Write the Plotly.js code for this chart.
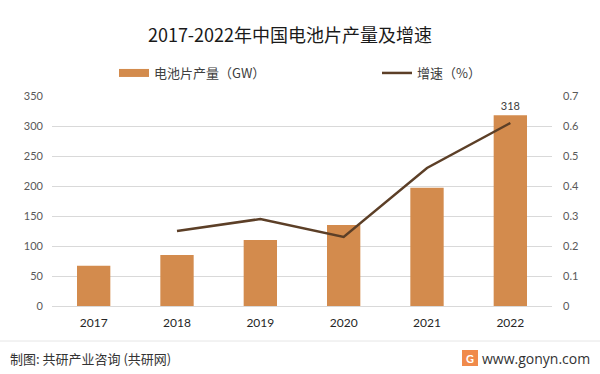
<!DOCTYPE html>
<html>
<head>
<meta charset="utf-8">
<script src="https://cdn.plot.ly/plotly-3.0.1.min.js"></script>
<style>html,body{margin:0;padding:0;background:#fff;}#chart{width:600px;height:374px;}</style>
</head>
<body>
<div id="chart"></div>
<script>
const years = ['2017', '2018', '2019', '2020', '2021', '2022'];
const production = [67, 85, 110, 135, 197, 318];
const growth = [null, 0.25, 0.29, 0.23, 0.46, 0.61];
const leftTicks = [0, 50, 100, 150, 200, 250, 300, 350];
const rightTicks = [0, 0.1, 0.2, 0.3, 0.4, 0.5, 0.6, 0.7];
const barName = '电池片产量（GW）';
const lineName = '增速（%）';
const labelText = production.map((v, i) => i === production.length - 1 ? String(v) : '');

const W = 600, H = 374, L = 52, R = 48, T = 96, B = 68;
const pw = W - L - R, ph = H - T - B;
const px = x => (x - L) / pw;
const py = y => (H - B - y) / ph;

const cn = '"Noto Sans CJK SC", "Noto Sans", sans-serif';
const num = 'Lato, "Open Sans", sans-serif';

const data = [
  {
    type: 'bar', x: years, y: production, name: barName, showlegend: false,
    marker: {color: '#d38b4d'}, text: labelText, textposition: 'outside',
    textfont: {family: num, size: 11, color: '#404040'}, cliponaxis: false,
    hoverinfo: 'x+y'
  },
  {
    type: 'scatter', mode: 'lines', x: [null], y: [null], name: barName, legend: 'legend',
    line: {color: '#d38b4d', width: 8}, showlegend: true, hoverinfo: 'skip'
  },
  {
    type: 'scatter', mode: 'lines', x: years, y: growth, name: lineName, yaxis: 'y2', legend: 'legend2',
    line: {color: '#5c3f27', width: 2.5}, connectgaps: false
  }
];

const legendFont = {family: cn, size: 13, color: '#404040'};
const layout = {
  width: W, height: H,
  margin: {l: L, r: R, t: T, b: B},
  paper_bgcolor: '#ffffff', plot_bgcolor: '#ffffff',
  title: {text: '2017-2022年中国电池片产量及增速', x: 290 / W, xanchor: 'center', y: 1 - 36 / H, yanchor: 'middle',
    font: {family: cn, size: 18, color: '#1a1a1a'}},
  bargap: 0.6,
  showlegend: true,
  legend: {orientation: 'h', x: px(114), xanchor: 'left', y: py(73), yanchor: 'middle',
    font: legendFont, itemwidth: 30, bgcolor: 'rgba(0,0,0,0)'},
  legend2: {orientation: 'h', x: px(377), xanchor: 'left', y: py(73), yanchor: 'middle',
    font: legendFont, itemwidth: 30, bgcolor: 'rgba(0,0,0,0)'},
  xaxis: {type: 'category', showgrid: false, zeroline: false, showline: false, ticks: '',
    ticklabelstandoff: 8,
    tickfont: {family: num, size: 12, color: '#262626'}, fixedrange: true},
  yaxis: {range: [0, 350], tickvals: leftTicks, ticktext: leftTicks.map(String),
    showgrid: true, gridcolor: '#d9d9d9', gridwidth: 1, zeroline: true, zerolinecolor: '#d9d9d9',
    showline: false, ticks: '', ticklen: 0, ticklabelstandoff: 8,
    tickfont: {family: num, size: 11, color: '#595959'}, fixedrange: true},
  yaxis2: {range: [0, 0.7], tickvals: rightTicks, ticktext: rightTicks.map(String), overlaying: 'y', side: 'right',
    showgrid: false, zeroline: false, showline: false, ticks: '', ticklen: 0, ticklabelstandoff: 10,
    tickfont: {family: num, size: 11, color: '#595959'}, fixedrange: true},
  shapes: [
    {type: 'line', xref: 'paper', yref: 'paper', x0: px(0), x1: px(600), y0: py(341), y1: py(341),
      line: {color: '#e6e6e6', width: 1}},
    {type: 'rect', xref: 'paper', yref: 'paper', x0: px(462), x1: px(478), y0: py(350), y1: py(366),
      fillcolor: '#f08a4b', line: {width: 0}}
  ],
  annotations: [
    {xref: 'paper', yref: 'paper', x: px(8), y: py(358), xanchor: 'left', yanchor: 'middle', showarrow: false,
      text: '制图: 共研产业咨询 (共研网)', font: {family: cn, size: 13, color: '#333333'}},
    {xref: 'paper', yref: 'paper', x: px(470), y: py(358), xanchor: 'center', yanchor: 'middle', showarrow: false,
      text: '<b>G</b>', font: {family: num, size: 11, color: '#ffffff'}},
    {xref: 'paper', yref: 'paper', x: px(592), y: py(358), xanchor: 'right', yanchor: 'middle', showarrow: false,
      text: 'www.gonyn.com', font: {family: '"Open Sans", sans-serif', size: 14, color: '#333333'}}
  ]
};

Plotly.newPlot('chart', data, layout, {displayModeBar: false, staticPlot: true});
</script>
</body>
</html>
